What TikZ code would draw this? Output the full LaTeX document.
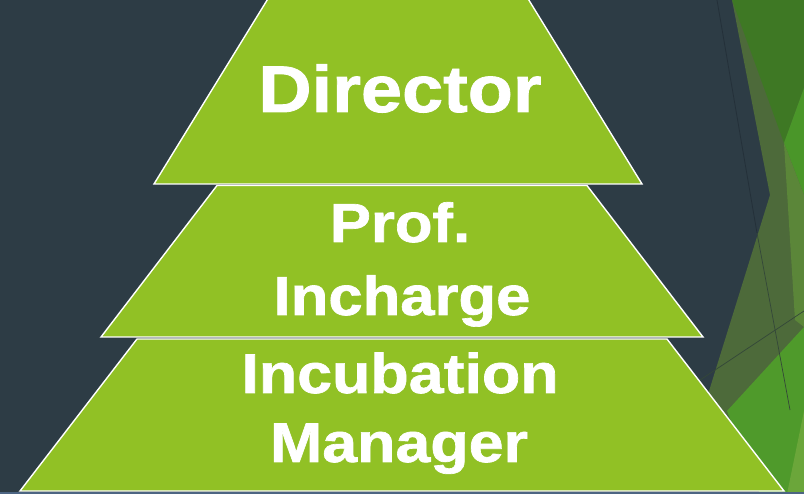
\documentclass[tikz,border=0pt]{standalone}
\usepackage{fontspec}
\newfontfamily\lblfont{Liberation Sans}[FakeStretch=1.12,FakeBold=1.2]
\definecolor{slate}{HTML}{2D3C45}
\definecolor{leaf}{HTML}{91C125}
\definecolor{olive}{HTML}{4D6A3A}
\definecolor{dkgreen}{HTML}{3E7824}
\definecolor{brgreen}{HTML}{4A9629}
\definecolor{ltolive}{HTML}{5B8639}
\definecolor{bggreen}{HTML}{4F9A2B}
\definecolor{cornergreen}{HTML}{6BA63A}
\definecolor{footer}{HTML}{4D6583}
\definecolor{thinline}{HTML}{243039}
\tikzset{
  layer/.style={fill=leaf, draw=white, line width=1.4pt, line join=miter},
  lbl/.style={text=white, inner sep=0pt, anchor=base, font=\lblfont\bfseries},
  deco/.style={draw=none}
}
\begin{document}
\begin{tikzpicture}[x=1pt,y=-1pt]
\useasboundingbox (0,0) rectangle (804,494);
\clip (0,0) rectangle (804,494);
\fill[slate] (0,0) rectangle (804,494);
% right decoration
\fill[olive] (732,0) -- (770,195) -- (700,420) -- (784,494) -- (804,494) -- (804,0) -- cycle;
\fill[dkgreen] (732,0) -- (804,0) -- (804,88) -- (784,143) -- cycle;
\fill[brgreen] (804,88) -- (784,143) -- (804,195) -- cycle;
\fill[ltolive] (784,143) -- (804,195) -- (804,327) -- (795,320) -- cycle;
\fill[bggreen] (804,327) -- (727,411) -- (760,494) -- (804,494) -- cycle;
\fill[cornergreen] (804,411) -- (787,494) -- (804,494) -- cycle;
\coordinate (la) at (717,0);
\coordinate (lb) at (757,233);
\coordinate (lc) at (790,410);
\draw[thinline, line width=0.8pt] (la) -- (lb);
\draw[thinline!60!olive, line width=0.7pt] (lb) -- (lc);
\coordinate (ld) at (694,384);
\coordinate (le) at (804,311);
\draw[thinline!60!olive, line width=0.7pt] (ld) -- (le);
% footer strip
\fill[footer] (0,491.5) rectangle (804,494);
% pyramid
\draw[layer] (154,184) -- (642,184) -- (516.5,-20) -- (279.5,-20) -- cycle;
\draw[layer] (217,185.5) -- (587,185.5) -- (703,337) -- (101,337) -- cycle;
\draw[layer] (137,339) -- (667,339) -- (784,491) -- (20,491) -- cycle;
% labels
\node[lbl, font=\lblfont\bfseries\fontsize{66}{66}\selectfont] (dir) at (400,112) {Director};
\node[lbl, font=\lblfont\bfseries\fontsize{55}{55}\selectfont] (prof) at (400,242) {Prof.};
\node[lbl, font=\lblfont\bfseries\fontsize{55}{55}\selectfont] (inch) at (402,315) {Incharge};
\node[lbl, font=\lblfont\bfseries\fontsize{56}{56}\selectfont] (incu) at (400,393) {Incubation};
\node[lbl, font=\lblfont\bfseries\fontsize{56}{56}\selectfont] (mgr) at (399,462) {Manager};
\end{tikzpicture}
\end{document}
